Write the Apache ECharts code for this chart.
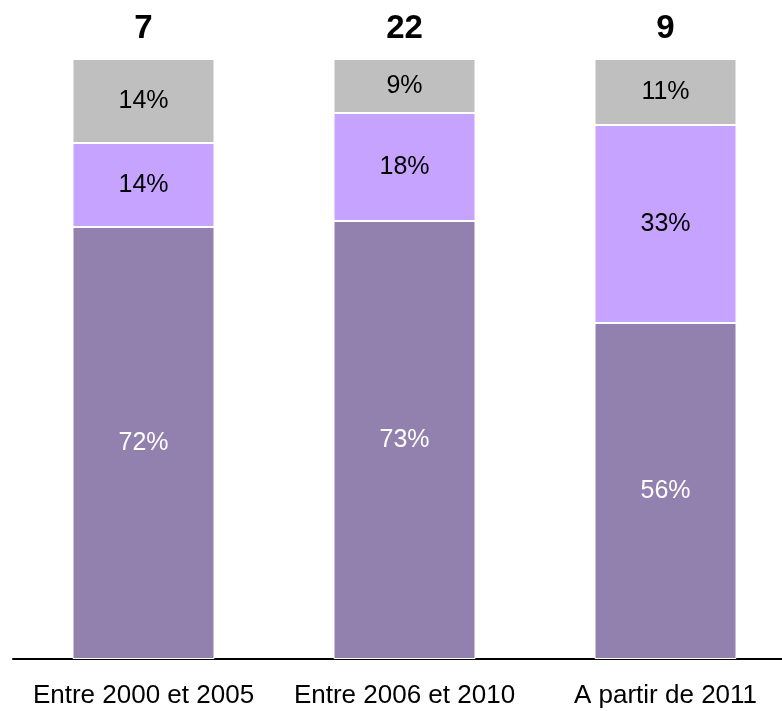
<!DOCTYPE html>
<html>
<head>
<meta charset="utf-8">
<script src="https://cdn.jsdelivr.net/npm/echarts@6/dist/echarts.min.js"></script>
<style>
  html, body { margin: 0; padding: 0; background: #fff; }
  #chart { width: 782px; height: 711px; }
</style>
</head>
<body>
<div id="chart"></div>
<script>
const categories = ["Entre 2000 et 2005", "Entre 2006 et 2010", "A partir de 2011"];
const totals = [7, 22, 9];
const bottomValues = [72, 73, 56];
const middleValues = [14, 18, 33];
const topValues = [14, 9, 11];

const FONT = "'Liberation Sans', Arial, sans-serif";

function segment(name, data, color, textColor) {
    return {
        name: name,
        type: 'bar',
        stack: 'total',
        barWidth: 142,
        data: data,
        itemStyle: { color: color, borderColor: '#ffffff', borderWidth: 1 },
        label: {
            show: true,
            position: 'inside',
            formatter: '{c}%',
            color: textColor,
            fontSize: 25,
            fontFamily: FONT
        },
        emphasis: { disabled: true }
    };
}

const chart = echarts.init(document.getElementById('chart'));

chart.setOption({
    animation: false,
    grid: { left: 13, top: 59, width: 783, bottom: 52, containLabel: false, outerBoundsMode: 'none' },
    xAxis: {
        type: 'category',
        data: categories,
        axisLine: { lineStyle: { color: '#000', width: 2 } },
        axisTick: { show: false },
        axisLabel: {
            interval: 0,
            hideOverlap: false,
            color: '#000',
            fontSize: 26,
            fontFamily: FONT,
            margin: 24
        }
    },
    yAxis: { type: 'value', min: 0, max: 100, show: false },
    series: [
        segment('bas', bottomValues, '#9281ae', '#ffffff'),
        segment('milieu', middleValues, '#c5a3ff', '#000000'),
        segment('haut', topValues, '#bfbfbf', '#000000'),
        {
            // totaux au-dessus des barres
            name: 'total',
            type: 'bar',
            stack: 'total',
            barWidth: 142,
            data: totals.map(function () { return 0; }),
            label: {
                show: true,
                position: 'top',
                distance: 14,
                formatter: function (p) { return totals[p.dataIndex]; },
                color: '#000',
                fontSize: 33,
                fontWeight: 'bold',
                fontFamily: FONT
            }
        }
    ]
});
</script>
</body>
</html>
